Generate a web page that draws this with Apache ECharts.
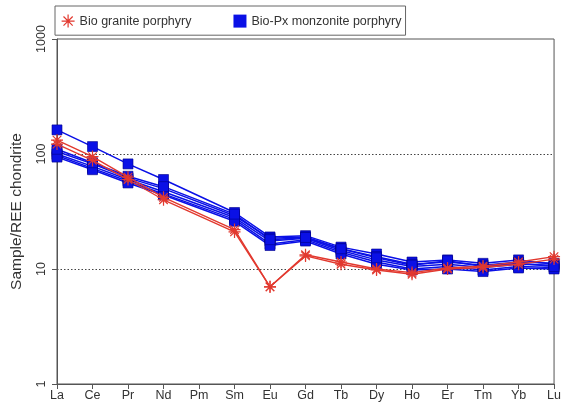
<!DOCTYPE html>
<html>
<head>
<meta charset="utf-8">
<script src="https://cdn.jsdelivr.net/npm/echarts@6/dist/echarts.min.js"></script>
<style>html,body{margin:0;padding:0;background:#fff}#c{width:564px;height:406px}</style>
</head>
<body>
<div id="c"></div>
<script>
const categories = ['La','Ce','Pr','Nd','Pm','Sm','Eu','Gd','Tb','Dy','Ho','Er','Tm','Yb','Lu'];
const yTicks = [1, 10, 100, 1000];

const graniteName = 'Bio granite porphyry';
const monzoniteName = 'Bio-Px monzonite porphyry';

// Bio granite porphyry samples (Pm not analysed)
const granite1 = [132, 95, 63, 42, null, 22, 7.0, 13.3, 11.5, 10.0, 9.3, 10.2, 10.6, 11.5, 12.8];
const granite2 = [122, 88, 60, 40, null, 21, 7.0, 13.0, 11.0, 9.8, 9.0, 10.0, 10.3, 11.0, 12.2];

// Bio-Px monzonite porphyry samples
const monz1 = [162, 116, 82, 60, null, 31, 19.0, 19.5, 15.5, 13.5, 11.5, 12.0, 11.2, 12.0, 11.0];
const monz2 = [105, 82, 62, 50, null, 29, 18.5, 19.0, 15.0, 12.8, 11.0, 11.5, 10.8, 11.5, 11.2];
const monz3 = [100, 78, 60, 47, null, 28, 17.5, 18.5, 14.5, 12.0, 10.5, 11.0, 10.3, 11.0, 10.8];
const monz4 = [97, 75, 58, 45, null, 27, 16.5, 18.0, 14.0, 11.5, 10.0, 10.5, 9.8, 10.5, 10.3];
const monz5 = [94, 73, 56, 44, null, 26, 16.0, 17.5, 13.5, 11.0, 9.8, 10.0, 9.5, 10.2, 10.0];
const monz6 = [110, 84, 64, 52, null, 30, 18.0, 18.8, 15.0, 12.5, 10.8, 11.8, 10.5, 11.2, 10.5];

const graniteSamples = [granite1, granite2];
const monzSamples = [monz1, monz2, monz3, monz4, monz5, monz6];

const RED = '#e2392f';
const BLUE = '#0a10e6';
const STAR = 'path://M0,-1L0,1M-1,0L1,0M-0.7071,-0.7071L0.7071,0.7071M-0.7071,0.7071L0.7071,-0.7071';

const series = [];
monzSamples.forEach(d => series.push({
  name: monzoniteName, type: 'line', data: d, connectNulls: true,
  symbol: 'rect', symbolSize: 10, color: BLUE,
  itemStyle: {color: BLUE, borderColor: '#00008a', borderWidth: 0.6},
  lineStyle: {color: BLUE, width: 1.5}, z: 2
}));
graniteSamples.forEach(d => series.push({
  name: graniteName, type: 'line', data: d, connectNulls: true,
  symbol: STAR, symbolSize: 12, color: RED,
  itemStyle: {color: 'rgba(0,0,0,0)', borderColor: RED, borderWidth: 1.2},
  lineStyle: {color: RED, width: 1.4}, z: 3
}));

const chart = echarts.init(document.getElementById('c'), null, {renderer: 'canvas'});
chart.setOption({
  animation: false,
  textStyle: {fontFamily: 'Liberation Sans, Arial, sans-serif'},
  legend: {
    data: [
      {name: graniteName, icon: STAR, itemStyle: {color: 'rgba(0,0,0,0)', borderColor: RED, borderWidth: 1.2}},
      {name: monzoniteName, icon: 'rect', itemStyle: {color: BLUE, borderWidth: 0}}
    ],
    left: 55, top: 6,
    itemWidth: 13, itemHeight: 13, itemGap: 42,
    padding: [8, 4, 7, 6],
    borderColor: '#666', borderWidth: 1,
    textStyle: {fontSize: 12.5, color: '#333', fontFamily: 'Liberation Sans, Arial, sans-serif'}
  },
  grid: {left: 57, right: 8, top: 39, bottom: 22, show: true, borderColor: '#555', borderWidth: 1, backgroundColor: 'transparent'},
  xAxis: {
    type: 'category', data: categories, boundaryGap: false,
    axisLine: {lineStyle: {color: '#555', width: 1}},
    axisTick: {show: true, inside: false, length: 5, lineStyle: {color: '#555'}},
    axisLabel: {color: '#333', fontSize: 12.5, margin: 5, interval: 0},
    splitLine: {show: false}
  },
  yAxis: {
    type: 'log', logBase: 10, min: yTicks[0], max: yTicks[yTicks.length - 1],
    name: 'Sample/REE chondrite', nameLocation: 'middle', nameGap: 32,
    nameTextStyle: {fontSize: 15.5, color: '#333'},
    axisLine: {show: true, lineStyle: {color: '#555', width: 1}},
    axisTick: {show: true, inside: false, length: 5, lineStyle: {color: '#555'}},
    axisLabel: {color: '#333', fontSize: 12.5, rotate: 90, margin: 9, formatter: v => String(Math.round(v))},
    minorTick: {show: false},
    splitLine: {show: true, showMinLine: false, showMaxLine: false, lineStyle: {color: '#444', type: [1.5, 2], width: 1}}
  },
  series: series
});
</script>
</body>
</html>
